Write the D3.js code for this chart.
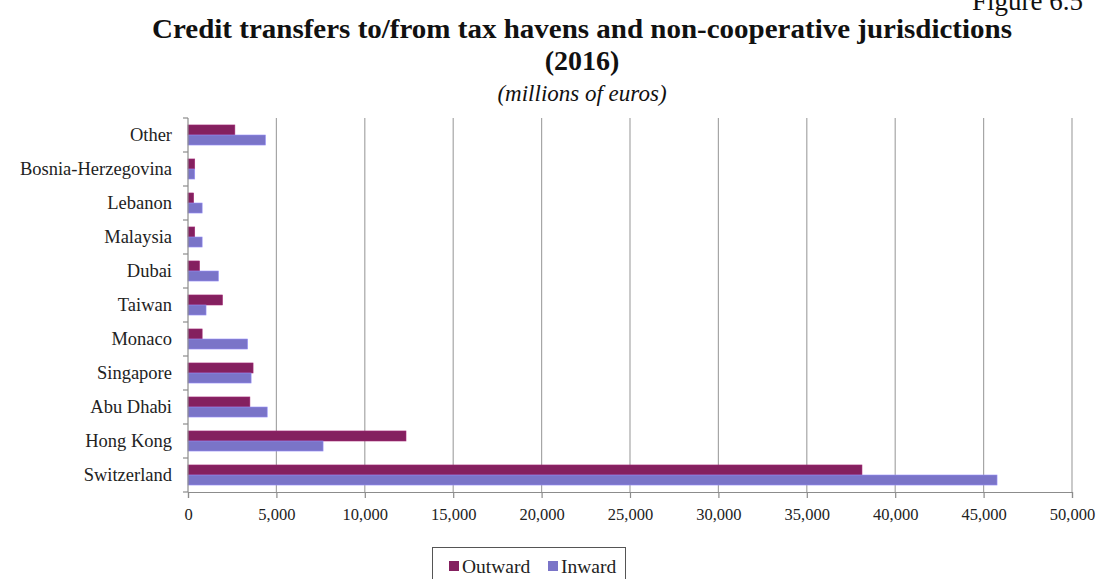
<!DOCTYPE html>
<html>
<head>
<meta charset="utf-8">
<script src="https://cdn.jsdelivr.net/npm/d3@7/dist/d3.min.js"></script>
<style>
  html, body { margin: 0; padding: 0; background: #fff; }
  svg { display: block; }
</style>
</head>
<body>
<svg id="chart" width="1099" height="579"></svg>
<script>
// Jurisdictions, top to bottom
const categories = ["Other", "Bosnia-Herzegovina", "Lebanon", "Malaysia", "Dubai", "Taiwan",
                    "Monaco", "Singapore", "Abu Dhabi", "Hong Kong", "Switzerland"];
// Credit transfers, millions of euros
const outward = [2650, 380, 320, 380, 650, 1950, 800, 3680, 3500, 12330, 38120];
const inward  = [4380, 380, 800, 800, 1720, 1020, 3370, 3570, 4480, 7640, 45760];
const seriesNames = ["Outward", "Inward"];
const xTicks = [0, 5000, 10000, 15000, 20000, 25000, 30000, 35000, 40000, 45000, 50000];

const colors = { Outward: "#84205F", Inward: "#7A74C8" };
const serif = "'Liberation Serif', 'DejaVu Serif', serif";

const svg = d3.select("#chart");
const m = { left: 188, right: 1072, top: 118, bottom: 492 };

const x = d3.scaleLinear().domain([0, 50000]).range([m.left, m.right]);
const y = d3.scaleBand().domain(categories).range([m.top, m.bottom])
  .paddingInner(0.41).paddingOuter(0.205);
const ySub = d3.scaleBand().domain(seriesNames).range([0, y.bandwidth()]);

// Titles
svg.append("text").attr("x", 972).attr("y", 10)
  .style("font-family", serif).style("font-size", "27px").attr("fill", "#111")
  .text("Figure 6.5");
svg.append("text").attr("x", 582).attr("y", 38).attr("text-anchor", "middle")
  .attr("textLength", 860).attr("lengthAdjust", "spacingAndGlyphs")
  .style("font-family", serif).style("font-size", "28px").style("font-weight", "bold")
  .attr("fill", "#111").text("Credit transfers to/from tax havens and non-cooperative jurisdictions");
svg.append("text").attr("x", 582).attr("y", 70).attr("text-anchor", "middle")
  .style("font-family", serif).style("font-size", "28px").style("font-weight", "bold")
  .attr("fill", "#111").text("(2016)");
svg.append("text").attr("x", 582).attr("y", 101).attr("text-anchor", "middle")
  .style("font-family", serif).style("font-size", "23px").style("font-style", "italic")
  .attr("fill", "#111").text("(millions of euros)");

// Vertical gridlines
svg.append("g").selectAll("line").data(xTicks.filter(d => d > 0)).join("line")
  .attr("x1", d => x(d)).attr("x2", d => x(d))
  .attr("y1", m.top).attr("y2", m.bottom)
  .attr("stroke", "#a6a6a6").attr("stroke-width", 1.2);

// Bars
const rows = categories.map((c, i) => ({ c, vals: [
  { s: "Outward", v: outward[i] }, { s: "Inward", v: inward[i] } ] }));
const g = svg.append("g").selectAll("g").data(rows).join("g")
  .attr("transform", d => `translate(0,${y(d.c)})`);
g.selectAll("rect").data(d => d.vals).join("rect")
  .attr("x", x(0)).attr("y", d => ySub(d.s))
  .attr("width", d => x(d.v) - x(0)).attr("height", ySub.bandwidth())
  .attr("fill", d => colors[d.s])
  .attr("stroke", d => d3.color(colors[d.s]).brighter(0.6)).attr("stroke-width", 0.6);

// X axis
const xAxis = svg.append("g").attr("transform", `translate(0,${m.bottom})`)
  .call(d3.axisBottom(x).tickValues(xTicks).tickSize(6).tickPadding(10)
    .tickFormat(d3.format(",")));
xAxis.select(".domain").attr("stroke", "#8c8c8c").attr("stroke-width", 1.2);
xAxis.selectAll(".tick line").attr("stroke", "#8c8c8c").attr("stroke-width", 1.2);
xAxis.selectAll("text").style("font-family", serif).style("font-size", "16.5px").attr("fill", "#222");

// Y axis with ticks at category boundaries
const yAxisG = svg.append("g");
yAxisG.append("line").attr("x1", m.left).attr("x2", m.left)
  .attr("y1", m.top).attr("y2", m.bottom).attr("stroke", "#8c8c8c").attr("stroke-width", 1.2);
const bounds = d3.range(categories.length + 1).map(i => m.top + i * y.step());
yAxisG.selectAll("line.tk").data(bounds).join("line").attr("class", "tk")
  .attr("x1", m.left - 5).attr("x2", m.left).attr("y1", d => d).attr("y2", d => d)
  .attr("stroke", "#8c8c8c").attr("stroke-width", 1.2);
yAxisG.selectAll("text").data(categories).join("text")
  .attr("x", m.left - 16).attr("y", d => y(d) + y.bandwidth() / 2 + 6)
  .attr("text-anchor", "end")
  .style("font-family", serif).style("font-size", "18.5px").attr("fill", "#222")
  .text(d => d);

// Legend
const lg = svg.append("g");
lg.append("rect").attr("x", 432.5).attr("y", 547.5).attr("width", 193).attr("height", 40)
  .attr("fill", "none").attr("stroke", "#555").attr("stroke-width", 1);
const items = [{ s: "Outward", x: 449 }, { s: "Inward", x: 548 }];
items.forEach(it => {
  lg.append("rect").attr("x", it.x).attr("y", 561).attr("width", 10).attr("height", 10)
    .attr("fill", colors[it.s]);
  lg.append("text").attr("x", it.x + 13).attr("y", 573)
    .style("font-family", serif).style("font-size", "19.5px").attr("fill", "#222").text(it.s);
});
</script>
</body>
</html>
